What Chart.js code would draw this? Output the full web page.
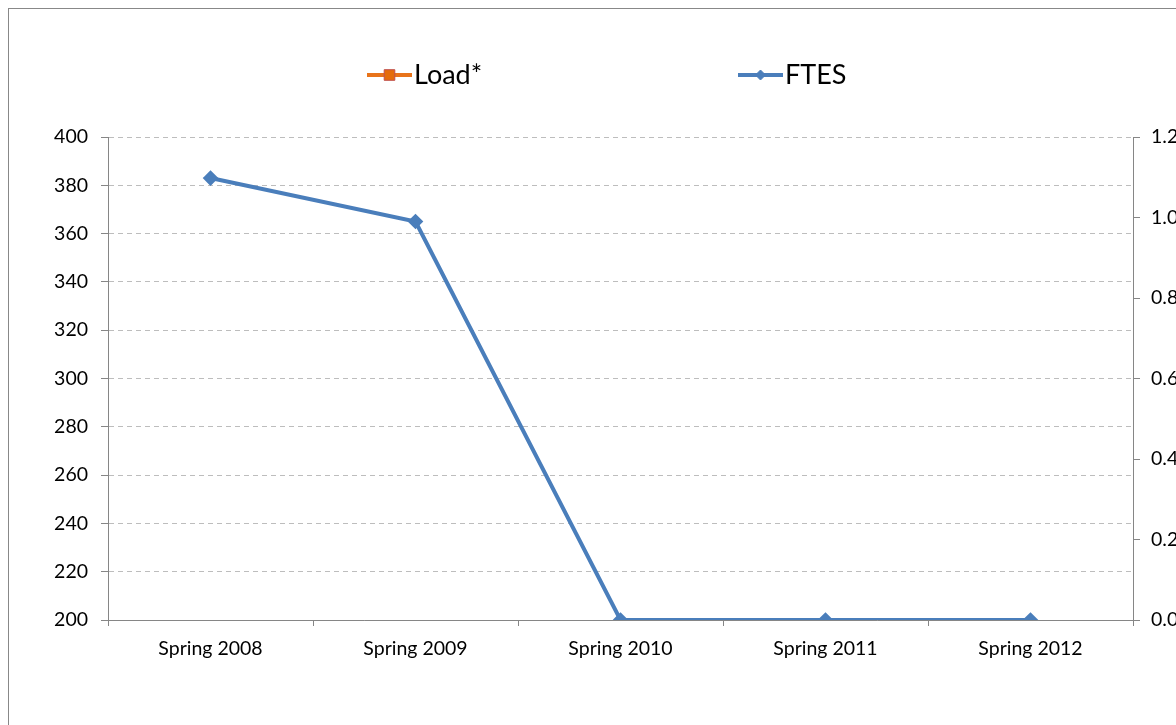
<!DOCTYPE html>
<html>
<head>
<meta charset="utf-8">
<script src="https://cdn.jsdelivr.net/npm/chart.js@4.4.1/dist/chart.umd.min.js"></script>
<style>
    html, body { margin: 0; padding: 0; background: #fff; overflow: hidden; }
    .chart-frame {
        position: absolute;
        left: 8px;
        top: 8px;
        width: 1207px;
        height: 760px;
        border: 1px solid #888;
    }
</style>
</head>
<body>
<div class="chart-frame"><canvas id="lineChart" width="1207" height="760"></canvas></div>
<script>
const terms = ["Spring 2008", "Spring 2009", "Spring 2010", "Spring 2011", "Spring 2012"];
const ftes = [383, 365, 200, 200, 200];
const load = [null, null, null, null, null];
const leftTicks = { min: 200, max: 400, step: 20 };
const rightTicks = { min: 0, max: 1.2, step: 0.2 };

const fontFamily = "Lato, 'Open Sans', sans-serif";
const axisGray = "#868686";

// Excel-style legend: line sample with marker, then label
const lineLegend = {
    id: "lineLegend",
    afterDraw(chart) {
        const ctx = chart.ctx;
        const starts = [358, 729];
        const markerSize = { rect: 7.5, rectRot: 5 };
        const sampleWidth = 45;
        const baseline = 75;
        const midY = 66;

        chart.data.datasets.forEach((ds, i) => {
            let x = starts[i];
            ctx.save();
            ctx.strokeStyle = ds.borderColor;
            ctx.lineWidth = 4;
            ctx.beginPath();
            ctx.moveTo(x, midY);
            ctx.lineTo(x + sampleWidth, midY);
            ctx.stroke();

            ctx.fillStyle = ds.backgroundColor;
            ctx.strokeStyle = ds.pointBorderColor;
            ctx.lineWidth = 1;
            Chart.helpers.drawPoint(ctx, {
                pointStyle: ds.pointStyle,
                radius: markerSize[ds.pointStyle],
                borderWidth: 1
            }, x + sampleWidth / 2, midY);

            ctx.fillStyle = "#000";
            ctx.font = "27px " + fontFamily;
            ctx.textBaseline = "alphabetic";
            ctx.textAlign = "left";
            ctx.fillText(ds.label, x + sampleWidth + 2, baseline);
            ctx.restore();
        });
    }
};

let currentChart = new Chart(document.getElementById("lineChart"), {
    type: "line",
    data: {
        labels: terms,
        datasets: [
            {
                label: "Load*",
                data: load,
                yAxisID: "y1",
                borderColor: "#E8731A",
                backgroundColor: "#E46C0A",
                pointBorderColor: "#C0504D",
                pointStyle: "rect",
                pointRadius: 5,
                borderWidth: 4,
            },
            {
                label: "FTES",
                data: ftes,
                yAxisID: "y",
                borderColor: "#4A7EBB",
                backgroundColor: "#4A7EBB",
                pointBorderColor: "#4A7EBB",
                pointStyle: "rectRot",
                pointRadius: 5,
                pointHoverRadius: 5,
                borderWidth: 4,
                tension: 0,
            },
        ],
    },
    options: {
        responsive: false,
        animation: false,
        layout: {
            padding: { top: 128, left: 0, right: 0, bottom: 0 },
        },
        plugins: {
            legend: { display: false },
            tooltip: { enabled: false },
        },
        scales: {
            x: {
                offset: true,
                grid: {
                    offset: true,
                    drawOnChartArea: false,
                    tickLength: 6,
                    color: axisGray,
                    tickColor: axisGray,
                },
                border: { color: axisGray, width: 1 },
                ticks: {
                    color: "#000",
                    padding: 11,
                    maxRotation: 0,
                    font: { family: fontFamily, size: 19.5 },
                },
                afterFit(scale) {
                    scale.height = 149;
                },
            },
            y: {
                position: "left",
                min: leftTicks.min,
                max: leftTicks.max,
                grid: {
                    color: "#bdbdbd",
                    tickColor: axisGray,
                    tickLength: 7,
                },
                border: { color: axisGray, width: 1, dash: [5, 4] },
                ticks: {
                    stepSize: leftTicks.step,
                    color: "#000",
                    padding: 13,
                    font: { family: fontFamily, size: 19.5 },
                },
                afterFit(scale) {
                    scale.width = 99;
                },
            },
            y1: {
                position: "right",
                min: rightTicks.min,
                max: rightTicks.max,
                grid: {
                    drawOnChartArea: false,
                    tickColor: axisGray,
                    tickLength: 7,
                },
                border: { color: axisGray, width: 1 },
                ticks: {
                    stepSize: rightTicks.step,
                    color: "#000",
                    padding: 11,
                    font: { family: fontFamily, size: 19.5 },
                    callback: (value) => Number(value).toFixed(1),
                },
                afterFit(scale) {
                    scale.width = 83;
                },
            },
        },
    },
    plugins: [lineLegend],
});
</script>
</body>
</html>
